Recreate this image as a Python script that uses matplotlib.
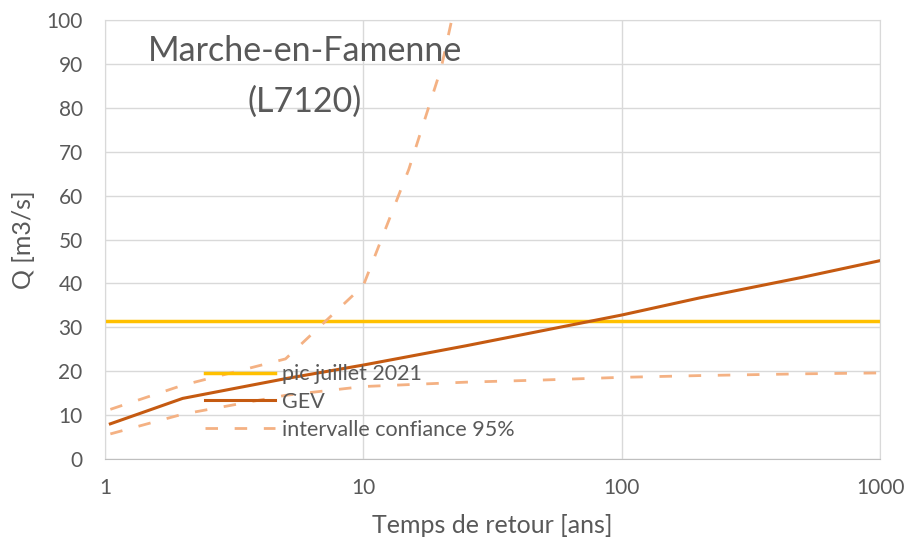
import numpy as np
import matplotlib
matplotlib.use('Agg')
import matplotlib.pyplot as plt

plt.rcParams['font.family'] = ['Lato', 'DejaVu Sans']

# periodes de retour et debits
T = [1.05, 2, 5, 10, 25, 50, 100, 200, 500, 1000]
gev = [8.0, 13.8, 18.3, 21.4, 25.8, 29.3, 32.8, 36.7, 41.4, 45.2]
ci_bas = [5.7, 10.2, 14.5, 16.5, 17.5, 18.0, 18.6, 19.0, 19.4, 19.6]
T_haut = [1.05, 2, 5, 10, 15, 20, 25]
ci_haut = [11.3, 16.8, 22.8, 39.5, 66.0, 89.0, 115.0]
pic_2021 = 31.4

gris = '#595959'
fig, ax = plt.subplots(figsize=(9.12, 5.47), dpi=100)
fig.subplots_adjust(left=0.115, right=0.965, bottom=0.161, top=0.963)

tirets = (0, (4.5, 6))
ax.plot([1, 1000], [pic_2021, pic_2021], color='#FFC000', lw=2.5, label='pic juillet 2021')
ax.plot(T, gev, color='#C55A11', lw=2.2, label='GEV')
ax.plot(T_haut, ci_haut, color='#F4B183', lw=2, ls=tirets, label='intervalle confiance 95%')
ax.plot(T, ci_bas, color='#F4B183', lw=2, ls=tirets)

ax.set_xscale('log')
ax.set_xlim(1, 1000)
ax.set_ylim(0, 100)
ax.set_yticks(range(0, 101, 10))
ax.set_xticks([1, 10, 100, 1000])
ax.set_xticklabels(['1', '10', '100', '1000'])
ax.minorticks_off()
ax.grid(True, color='#D9D9D9', lw=1)
ax.set_axisbelow(True)
for s in ax.spines.values():
    s.set_color('#D9D9D9')
ax.spines['bottom'].set_color('#BFBFBF')
ax.tick_params(length=0, labelsize=15, labelcolor=gris)
ax.tick_params(axis='y', pad=16)
ax.tick_params(axis='x', pad=14)

ax.set_xlabel('Temps de retour [ans]', fontsize=18, color=gris, labelpad=11)
ax.set_ylabel('Q [m3/s]', fontsize=18, color=gris, labelpad=8)

ax.text(0.258, 0.93, 'Marche-en-Famenne', transform=ax.transAxes,
        ha='center', va='center', fontsize=24.5, color=gris)
ax.text(0.258, 0.815, '(L7120)', transform=ax.transAxes,
        ha='center', va='center', fontsize=24.5, color=gris)

leg = ax.legend(loc='upper left', bbox_to_anchor=(0.129, 0.216), frameon=False,
                handlelength=3.25, fontsize=15.5, labelspacing=0.36,
                handletextpad=0.33, borderpad=0, borderaxespad=0)
for t in leg.get_texts():
    t.set_color(gris)

plt.savefig('out.png')
